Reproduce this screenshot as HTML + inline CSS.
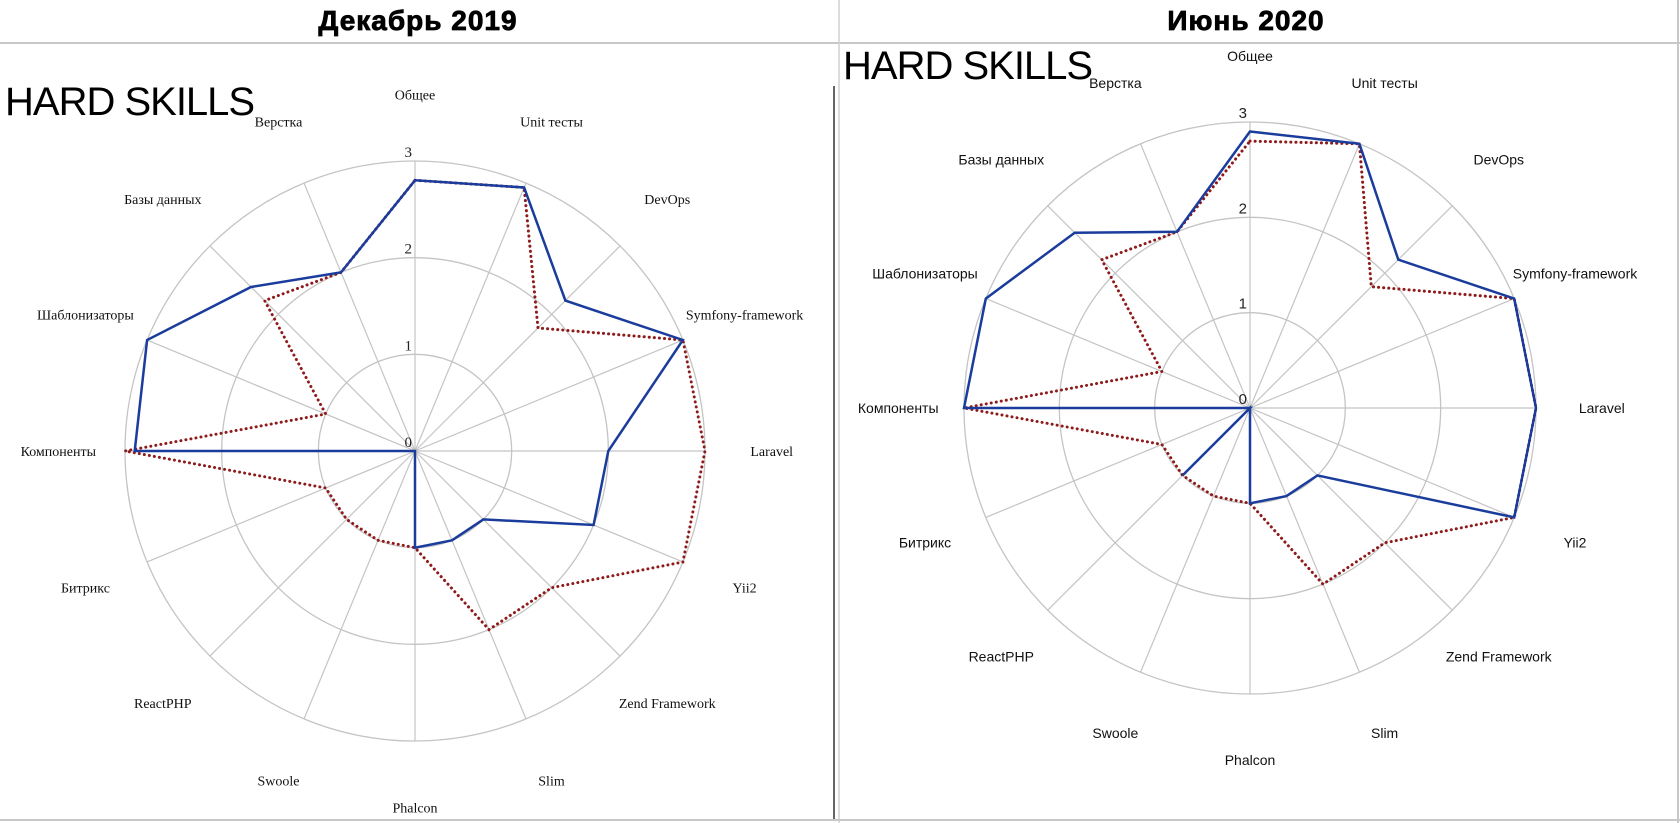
<!DOCTYPE html>
<html><head><meta charset="utf-8">
<style>
html,body{margin:0;padding:0;background:#fff;}
body{width:1680px;height:823px;position:relative;overflow:hidden;}
.hdr{position:absolute;top:5px;font:bold 28px "Liberation Sans","DejaVu Sans",sans-serif;color:#000;transform:translateX(-50%);white-space:nowrap;letter-spacing:1px;-webkit-text-stroke:0.8px #000;}
.hs{position:absolute;font:40px "Liberation Sans",sans-serif;color:#000;letter-spacing:-1px;white-space:nowrap;}
</style></head>
<body>
<svg width="1680" height="823" style="position:absolute;left:0;top:0">
  <line x1="0" y1="43" x2="1680" y2="43" stroke="#c8c8c8" stroke-width="2"/>
  <line x1="839" y1="0" x2="839" y2="823" stroke="#d0d0d0" stroke-width="1.5"/>
  <line x1="834" y1="86" x2="834" y2="820" stroke="#333" stroke-width="1.5"/>
  <line x1="1678" y1="0" x2="1678" y2="823" stroke="#c8c8c8" stroke-width="2"/>
  <line x1="0" y1="820" x2="1680" y2="820" stroke="#c8c8c8" stroke-width="2"/>
</svg>
<div class="hdr" style="left:418px">Декабрь 2019</div>
<div class="hdr" style="left:1246px">Июнь 2020</div>
<div class="hs" style="left:5px;top:80px">HARD SKILLS</div>
<div class="hs" style="left:843px;top:44px">HARD SKILLS</div>
<svg id="chartL" width="1680" height="823" style="position:absolute;left:0;top:0"></svg>
<svg id="chartR" width="1680" height="823" style="position:absolute;left:0;top:0"></svg>
<script>
const categories = ["Общее","Unit тесты","DevOps","Symfony-framework","Laravel","Yii2","Zend Framework","Slim","Phalcon","Swoole","ReactPHP","Битрикс","Компоненты","Шаблонизаторы","Базы данных","Верстка"];
const tickLabels = ["0","1","2","3"];
const dec2019Blue = [2.8,2.95,2.2,3.0,2.0,2.0,1.0,1.0,1.0,0,0,0,2.9,3.0,2.4,2.0];
const dec2019Red  = [2.8,2.95,1.8,3.0,3.0,3.0,2.0,2.0,1.0,1.0,1.0,1.0,3.0,1.0,2.2,2.0];
const jun2020Blue = [2.9,3.0,2.2,3.0,3.0,3.0,1.0,1.0,1.0,0,1.0,0,3.0,3.0,2.6,2.0];
const jun2020Red  = [2.8,3.0,1.8,3.0,3.0,3.0,2.0,2.0,1.0,1.0,1.0,1.0,3.0,1.0,2.2,2.0];
const maxValue = 3;

const NS = "http://www.w3.org/2000/svg";
function mk(svg, tag, attrs){const e=document.createElementNS(NS,tag);for(const k in attrs)e.setAttribute(k,attrs[k]);svg.appendChild(e);return e;}

function drawRadar(id, cx, cy, R, font, blue, red){
  const svg=document.getElementById(id);
  const n=categories.length;
  const pt=(i,v)=>{const a=i*2*Math.PI/n;const r=v/maxValue*R;return [cx+r*Math.sin(a), cy-r*Math.cos(a)];};
  for(let t=1;t<tickLabels.length;t++){
    const c=mk(svg,"circle",{cx:cx,cy:cy,r:t/maxValue*R,fill:"none",stroke:"#c4c4c4","stroke-width":1.3});
    
    
  }
  for(let i=0;i<n;i++){
    const [x,y]=pt(i,maxValue);
    const l=mk(svg,"line",{x1:cx,y1:cy,x2:x,y2:y,stroke:"#c4c4c4","stroke-width":1.2});
    
    
    const [lx,ly]=pt(i,maxValue*1.23);
    const tx=mk(svg,"text",{x:lx,y:ly+5,"text-anchor":"middle","font-family":font,"font-size":14,fill:"#111"});
    tx.textContent=categories[i];
    
    
  }
  for(let t=0;t<tickLabels.length;t++){
    const tx=mk(svg,"text",{x:cx-3,y:cy-t/maxValue*R-4,"text-anchor":"end","font-family":font,"font-size":15,fill:"#222"});
    tx.textContent=tickLabels[t];
    
    
  }
  const poly=(vals)=>vals.map((v,i)=>pt(i,v).map(q=>q.toFixed(1)).join(",")).join(" ");
  const r=mk(svg,"polygon",{points:poly(red),fill:"none",stroke:"#8e1a1a","stroke-width":3,"stroke-dasharray":"0.1 5","stroke-linecap":"round"});
  
  
  const b=mk(svg,"polygon",{points:poly(blue),fill:"none",stroke:"#1a3c9c","stroke-width":2.5,"stroke-linejoin":"miter"});
  
  
}
drawRadar("chartL",415,451,290,'"Liberation Serif",serif',dec2019Blue,dec2019Red);
drawRadar("chartR",1250,408,286,'"Liberation Sans",sans-serif',jun2020Blue,jun2020Red);
</script>
</body></html>
